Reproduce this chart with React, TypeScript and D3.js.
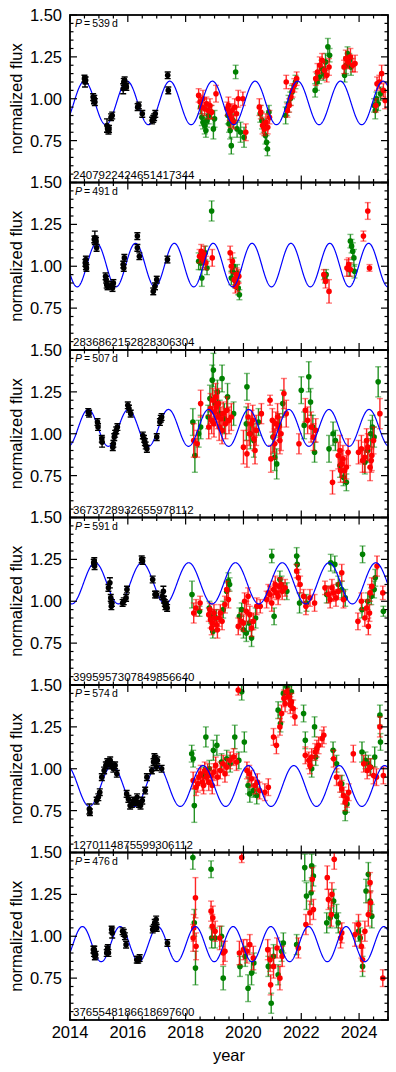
import * as d3 from "d3"

type Pt = [number, number, number] // year, flux, error

// panel metadata
const sourceIds = [
  "2407922424651417344",
  "2836862152828306304",
  "3673728932655978112",
  "3995957307849856640",
  "1270114875599306112",
  "3765548186618697600",
]
const periodDays = [539, 491, 507, 591, 574, 476]
const modelMean = [0.975, 1.007, 1.035, 1.107, 0.897, 0.953]
const modelAmp = [0.13, 0.13, 0.11, 0.123, 0.122, 0.105]
const modelPeak = [2014.5, 2014.92, 2014.63, 2014.87, 2015.455, 2014.43]

const xTickYears = [2014, 2016, 2018, 2020, 2022, 2024]
const yTickLabels = ["0.75", "1.00", "1.25", "1.50"]

// ---- panel 1 ----
const black1: Pt[] = [
  [2014.5, 1.12, 0.02], [2014.52, 1.1, 0.03], [2014.54, 1.11, 0.02],
  [2014.8, 1.01, 0.02], [2014.83, 0.99, 0.02], [2014.86, 0.98, 0.02], [2014.84, 1.0, 0.02],
  [2015.28, 0.84, 0.04], [2015.3, 0.82, 0.02], [2015.33, 0.81, 0.02], [2015.35, 0.82, 0.02],
  [2015.42, 0.89, 0.02], [2015.46, 0.9, 0.02],
  [2015.84, 1.06, 0.03], [2015.86, 1.1, 0.02], [2015.89, 1.11, 0.02], [2015.93, 1.08, 0.02], [2015.95, 1.07, 0.02],
  [2016.34, 0.95, 0.02], [2016.38, 0.96, 0.02], [2016.5, 0.91, 0.02],
  [2016.84, 0.87, 0.02], [2016.88, 0.88, 0.02], [2016.91, 0.89, 0.02], [2016.95, 0.91, 0.02],
  [2017.38, 1.14, 0.02], [2017.4, 1.05, 0.02],
]
const green1: Pt[] = [
  [2018.52, 0.95, 0.04], [2018.56, 0.89, 0.05], [2018.6, 0.86, 0.04], [2018.66, 0.84, 0.05],
  [2018.7, 0.81, 0.04], [2018.74, 0.87, 0.04], [2018.8, 0.9, 0.05], [2018.88, 0.92, 0.04],
  [2018.96, 0.82, 0.06], [2019.0, 0.88, 0.05],
  [2019.46, 0.9, 0.05], [2019.5, 0.85, 0.05], [2019.54, 0.81, 0.05], [2019.58, 0.72, 0.05],
  [2019.64, 0.87, 0.04], [2019.73, 1.16, 0.04], [2019.78, 0.82, 0.05], [2019.9, 0.8, 0.06], [2020.02, 0.77, 0.06],
  [2020.58, 0.91, 0.05], [2020.64, 0.87, 0.05], [2020.7, 0.84, 0.04], [2020.76, 0.78, 0.05],
  [2020.8, 0.74, 0.04], [2020.83, 0.7, 0.04], [2020.88, 0.92, 0.04],
  [2021.46, 0.9, 0.05], [2021.5, 0.94, 0.04], [2021.56, 0.97, 0.05], [2021.62, 1.0, 0.04],
  [2021.68, 1.04, 0.04], [2021.8, 1.1, 0.04],
  [2022.48, 1.05, 0.04], [2022.54, 1.1, 0.05], [2022.62, 1.13, 0.04], [2022.7, 1.18, 0.05],
  [2022.76, 1.15, 0.04], [2022.84, 1.22, 0.05], [2022.92, 1.31, 0.05], [2022.98, 1.26, 0.04],
  [2023.5, 1.14, 0.04], [2023.55, 1.2, 0.05], [2023.6, 1.27, 0.04], [2023.66, 1.23, 0.04], [2023.72, 1.19, 0.05],
  [2024.52, 0.96, 0.04], [2024.56, 0.93, 0.05], [2024.6, 1.0, 0.04], [2024.66, 0.97, 0.04], [2024.74, 1.03, 0.04],
]
const red1: Pt[] = [
  [2018.45, 1.02, 0.04], [2018.5, 0.98, 0.04], [2018.55, 0.95, 0.04], [2018.6, 1.0, 0.05],
  [2018.66, 0.94, 0.04], [2018.72, 0.97, 0.04], [2018.78, 0.93, 0.05], [2018.84, 0.96, 0.04],
  [2018.9, 0.92, 0.04], [2019.05, 1.03, 0.05],
  [2019.44, 0.94, 0.04], [2019.48, 0.96, 0.05], [2019.52, 0.91, 0.04], [2019.56, 0.88, 0.05],
  [2019.6, 0.93, 0.04], [2019.66, 0.86, 0.04], [2019.7, 0.95, 0.05], [2019.76, 0.91, 0.04],
  [2019.82, 1.0, 0.05], [2019.98, 1.0, 0.04], [2020.08, 0.8, 0.05],
  [2020.55, 0.95, 0.05], [2020.6, 0.92, 0.04], [2020.66, 0.84, 0.05], [2020.72, 0.82, 0.04],
  [2020.78, 0.86, 0.05], [2020.84, 0.83, 0.04], [2020.9, 0.89, 0.04],
  [2021.48, 1.1, 0.04], [2021.52, 0.93, 0.04], [2021.58, 0.96, 0.04], [2021.64, 1.01, 0.05],
  [2021.7, 1.05, 0.04], [2021.76, 1.08, 0.04], [2021.84, 1.12, 0.04],
  [2022.5, 1.12, 0.04], [2022.56, 1.16, 0.05], [2022.64, 1.2, 0.05], [2022.72, 1.23, 0.04],
  [2022.8, 1.17, 0.05], [2022.88, 1.14, 0.04], [2022.96, 1.19, 0.05],
  [2023.48, 1.19, 0.04], [2023.54, 1.24, 0.05], [2023.62, 1.22, 0.04], [2023.7, 1.25, 0.05],
  [2023.78, 1.2, 0.04], [2023.86, 1.21, 0.05],
  [2024.58, 0.96, 0.04], [2024.62, 1.09, 0.04], [2024.7, 1.1, 0.04], [2024.78, 1.15, 0.05],
  [2024.84, 1.05, 0.04], [2024.9, 0.99, 0.05],
]

// ---- panel 2 ----
const black2: Pt[] = [
  [2014.55, 1.04, 0.02], [2014.53, 1.02, 0.02], [2014.55, 1.0, 0.02], [2014.57, 0.99, 0.02],
  [2014.84, 1.16, 0.02], [2014.88, 1.16, 0.02], [2014.9, 1.15, 0.02], [2014.92, 1.11, 0.02], [2014.86, 1.17, 0.04],
  [2015.23, 0.94, 0.02], [2015.25, 0.92, 0.02], [2015.27, 0.89, 0.02], [2015.3, 0.88, 0.02],
  [2015.45, 0.89, 0.02], [2015.47, 0.87, 0.02], [2015.5, 0.9, 0.02],
  [2015.84, 1.01, 0.02], [2015.88, 1.05, 0.02], [2015.86, 0.99, 0.02],
  [2016.33, 1.18, 0.02], [2016.33, 1.11, 0.02], [2016.4, 1.06, 0.02],
  [2016.88, 0.85, 0.02], [2016.94, 0.88, 0.02], [2017.0, 0.92, 0.02],
  [2017.37, 1.04, 0.02],
]
const green2: Pt[] = [
  [2018.45, 1.03, 0.05], [2018.52, 1.02, 0.04], [2018.56, 0.93, 0.05], [2018.62, 1.05, 0.04],
  [2018.68, 1.08, 0.04], [2018.74, 0.99, 0.04], [2018.9, 1.33, 0.06],
  [2019.58, 0.93, 0.04], [2019.62, 0.97, 0.04], [2019.66, 1.0, 0.05], [2019.72, 0.91, 0.04],
  [2019.78, 0.96, 0.05], [2019.82, 0.87, 0.04], [2019.86, 0.83, 0.03],
  [2022.82, 0.93, 0.03], [2022.86, 0.95, 0.03],
  [2023.66, 0.98, 0.04], [2023.7, 1.15, 0.04], [2023.74, 1.12, 0.04], [2023.78, 1.09, 0.05],
  [2023.82, 1.05, 0.05], [2023.84, 0.97, 0.04],
]
const red2: Pt[] = [
  [2018.48, 1.06, 0.04], [2018.54, 1.09, 0.04], [2018.6, 1.04, 0.05], [2018.64, 1.07, 0.05],
  [2018.7, 1.02, 0.04], [2018.92, 1.05, 0.05],
  [2019.54, 1.08, 0.04], [2019.58, 1.0, 0.04], [2019.62, 1.03, 0.05], [2019.68, 0.92, 0.04],
  [2019.72, 0.88, 0.04], [2019.76, 0.95, 0.04], [2019.8, 0.9, 0.05], [2019.84, 0.94, 0.04],
  [2022.78, 0.95, 0.03], [2022.84, 0.91, 0.04], [2022.96, 0.85, 0.07],
  [2023.58, 0.99, 0.05], [2023.64, 1.01, 0.04], [2023.7, 0.98, 0.04],
  [2024.15, 1.18, 0.03], [2024.3, 1.33, 0.05], [2024.36, 0.99, 0.02],
]

// ---- panel 3 ----
const black3: Pt[] = [
  [2014.63, 1.13, 0.02], [2014.66, 1.12, 0.02],
  [2014.95, 1.07, 0.02], [2014.97, 1.04, 0.02],
  [2015.1, 0.97, 0.02], [2015.11, 0.95, 0.03],
  [2015.48, 0.92, 0.02], [2015.5, 0.94, 0.02], [2015.53, 0.98, 0.02], [2015.56, 1.0, 0.02],
  [2015.6, 1.02, 0.02], [2015.64, 1.04, 0.02],
  [2016.0, 1.17, 0.02], [2016.04, 1.15, 0.02], [2016.1, 1.12, 0.02],
  [2016.52, 0.99, 0.02], [2016.56, 0.97, 0.02], [2016.59, 0.95, 0.02], [2016.62, 0.93, 0.02], [2016.66, 0.91, 0.02],
  [2017.0, 0.98, 0.02], [2017.11, 1.07, 0.02], [2017.14, 1.09, 0.02], [2017.17, 1.1, 0.02],
]
const green3: Pt[] = [
  [2018.25, 1.07, 0.08], [2018.32, 0.87, 0.1], [2018.45, 1.0, 0.08], [2018.52, 1.04, 0.07],
  [2018.78, 1.1, 0.07], [2018.84, 1.21, 0.08], [2018.92, 1.32, 0.09], [2018.96, 1.38, 0.1],
  [2019.02, 1.18, 0.08], [2019.1, 1.25, 0.07], [2019.18, 1.12, 0.08], [2019.26, 1.33, 0.08],
  [2019.34, 1.09, 0.09], [2019.45, 1.22, 0.08], [2019.66, 1.12, 0.07],
  [2020.1, 1.06, 0.1], [2020.12, 1.28, 0.08], [2020.24, 1.0, 0.09], [2020.36, 0.96, 0.1], [2020.52, 1.07, 0.08],
  [2021.02, 0.98, 0.1], [2021.08, 0.86, 0.08], [2021.15, 0.82, 0.09], [2021.24, 1.05, 0.07], [2021.36, 1.18, 0.08],
  [2022.0, 1.26, 0.08], [2022.1, 1.05, 0.08], [2022.26, 1.34, 0.09], [2022.32, 1.19, 0.08],
  [2022.4, 1.04, 0.07], [2022.46, 0.89, 0.06],
  [2022.96, 0.91, 0.08], [2023.1, 1.0, 0.07], [2023.18, 0.96, 0.06], [2023.34, 0.81, 0.07],
  [2023.46, 0.74, 0.05], [2023.56, 0.71, 0.05],
  [2024.2, 0.83, 0.07], [2024.3, 0.9, 0.07], [2024.4, 1.0, 0.08], [2024.46, 1.04, 0.07],
  [2024.52, 0.98, 0.06], [2024.66, 1.31, 0.09],
]
const red3: Pt[] = [
  [2018.28, 0.96, 0.1], [2018.4, 0.94, 0.08], [2018.52, 1.18, 0.08],
  [2018.8, 1.04, 0.07], [2018.86, 1.15, 0.09], [2018.9, 1.08, 0.08], [2018.94, 1.2, 0.07],
  [2018.98, 1.06, 0.08], [2019.0, 1.13, 0.08], [2019.04, 1.22, 0.08], [2019.06, 1.16, 0.09],
  [2019.12, 1.1, 0.07], [2019.14, 1.18, 0.09], [2019.16, 1.04, 0.08], [2019.22, 1.09, 0.07],
  [2019.26, 1.02, 0.08], [2019.3, 1.12, 0.07], [2019.38, 1.06, 0.09], [2019.42, 1.14, 0.08],
  [2019.5, 1.08, 0.08], [2019.58, 1.1, 0.08],
  [2020.0, 0.92, 0.1], [2020.12, 0.88, 0.08], [2020.16, 1.1, 0.08], [2020.2, 1.0, 0.07], [2020.28, 1.06, 0.08],
  [2020.32, 1.08, 0.09], [2020.36, 0.97, 0.07], [2020.4, 0.9, 0.08], [2020.44, 1.02, 0.09], [2020.62, 1.12, 0.06],
  [2020.92, 1.2, 0.03], [2020.95, 0.85, 0.08], [2021.0, 1.08, 0.07], [2021.04, 0.98, 0.09],
  [2021.08, 0.94, 0.09], [2021.12, 1.06, 0.07], [2021.18, 1.1, 0.08], [2021.22, 1.04, 0.08],
  [2021.26, 0.96, 0.08], [2021.3, 1.0, 0.1], [2021.4, 1.24, 0.09], [2021.48, 1.12, 0.08],
  [2021.92, 0.94, 0.06], [2022.14, 1.14, 0.07], [2022.22, 1.08, 0.08], [2022.34, 1.04, 0.09],
  [2022.42, 0.98, 0.08], [2022.5, 1.02, 0.07],
  [2023.08, 0.71, 0.07], [2023.28, 0.87, 0.08], [2023.34, 0.9, 0.09], [2023.36, 0.78, 0.07],
  [2023.4, 0.82, 0.08], [2023.44, 0.85, 0.08], [2023.5, 0.78, 0.07], [2023.56, 0.8, 0.07], [2023.62, 0.89, 0.08],
  [2023.98, 0.89, 0.07], [2024.08, 0.91, 0.08], [2024.12, 0.84, 0.07], [2024.2, 0.86, 0.09],
  [2024.26, 0.96, 0.07], [2024.3, 0.92, 0.08], [2024.38, 0.8, 0.08], [2024.42, 0.84, 0.07],
  [2024.44, 0.87, 0.09], [2024.5, 0.96, 0.08], [2024.72, 1.12, 0.09],
]

// ---- panel 4 ----
const black4: Pt[] = [
  [2014.84, 1.24, 0.02], [2014.85, 1.21, 0.02], [2014.82, 1.23, 0.02],
  [2015.33, 1.08, 0.02], [2015.38, 1.11, 0.03], [2015.41, 1.02, 0.02], [2015.45, 0.99, 0.02], [2015.43, 0.97, 0.02],
  [2015.82, 0.99, 0.02], [2015.86, 1.0, 0.02], [2015.94, 1.02, 0.02], [2015.97, 1.07, 0.02],
  [2016.48, 1.25, 0.02], [2016.51, 1.24, 0.02],
  [2016.86, 1.13, 0.02], [2016.94, 1.04, 0.02], [2016.99, 1.04, 0.02],
  [2017.19, 1.03, 0.02], [2017.23, 1.06, 0.03], [2017.25, 1.01, 0.02], [2017.28, 0.99, 0.02],
  [2017.3, 0.97, 0.02], [2017.36, 0.96, 0.02], [2017.33, 0.98, 0.02],
]
const green4: Pt[] = [
  [2018.22, 1.04, 0.08], [2018.48, 0.94, 0.03], [2018.82, 0.96, 0.04], [2018.88, 0.91, 0.04],
  [2018.94, 0.82, 0.04], [2019.06, 0.9, 0.05], [2019.3, 0.95, 0.05], [2019.42, 1.06, 0.05],
  [2019.48, 1.12, 0.05], [2019.52, 1.1, 0.04],
  [2019.86, 0.91, 0.05], [2019.94, 0.95, 0.04], [2020.0, 0.83, 0.05], [2020.1, 0.81, 0.05],
  [2020.2, 0.87, 0.05], [2020.28, 0.78, 0.05], [2020.42, 0.9, 0.06],
  [2020.98, 1.27, 0.04], [2021.06, 0.91, 0.05], [2021.26, 1.13, 0.05], [2021.32, 1.1, 0.05], [2021.5, 1.06, 0.05],
  [2021.84, 1.27, 0.05], [2021.86, 1.22, 0.05], [2021.94, 0.99, 0.06], [2022.18, 0.99, 0.05],
  [2022.88, 1.04, 0.05], [2023.02, 1.23, 0.05], [2023.16, 1.22, 0.05], [2023.28, 1.1, 0.05],
  [2023.4, 1.07, 0.05], [2023.52, 1.02, 0.05],
  [2024.1, 0.95, 0.05], [2024.12, 1.28, 0.05], [2024.3, 1.0, 0.05], [2024.42, 1.03, 0.05],
  [2024.52, 1.07, 0.05], [2024.56, 1.14, 0.05], [2024.84, 0.94, 0.03],
]
const red4: Pt[] = [
  [2018.28, 0.93, 0.06], [2018.36, 0.96, 0.05], [2018.5, 0.99, 0.04],
  [2018.8, 0.92, 0.04], [2018.84, 0.95, 0.04], [2018.86, 0.89, 0.05], [2018.9, 0.84, 0.04],
  [2018.92, 0.87, 0.04], [2018.98, 0.93, 0.05], [2019.0, 0.9, 0.05], [2019.06, 0.86, 0.04],
  [2019.1, 0.83, 0.05], [2019.16, 0.9, 0.05], [2019.2, 0.93, 0.05], [2019.26, 0.88, 0.05],
  [2019.36, 0.98, 0.05], [2019.42, 1.07, 0.05], [2019.48, 1.01, 0.05],
  [2019.82, 0.85, 0.05], [2019.92, 0.88, 0.05], [2020.0, 0.87, 0.05], [2020.04, 1.0, 0.05], [2020.1, 0.94, 0.06],
  [2020.16, 1.03, 0.05], [2020.22, 0.92, 0.05], [2020.28, 0.84, 0.05], [2020.34, 0.88, 0.05],
  [2020.46, 0.97, 0.05], [2020.58, 0.97, 0.04],
  [2020.8, 1.01, 0.05], [2020.86, 1.05, 0.05], [2020.92, 1.04, 0.05], [2020.98, 0.99, 0.05],
  [2021.04, 1.07, 0.05], [2021.1, 1.1, 0.05], [2021.14, 1.05, 0.04], [2021.2, 1.03, 0.05],
  [2021.24, 1.09, 0.05], [2021.3, 1.1, 0.04], [2021.34, 1.06, 0.05], [2021.44, 1.08, 0.05],
  [2021.84, 1.18, 0.04], [2021.9, 1.14, 0.05], [2021.96, 1.1, 0.05], [2022.08, 1.03, 0.04],
  [2022.16, 0.97, 0.05], [2022.3, 1.02, 0.05], [2022.46, 0.99, 0.05],
  [2022.82, 1.08, 0.04], [2022.94, 1.04, 0.05], [2023.0, 1.01, 0.05], [2023.06, 1.08, 0.05],
  [2023.12, 1.05, 0.05], [2023.2, 1.02, 0.05], [2023.28, 1.06, 0.05], [2023.4, 1.17, 0.05], [2023.46, 1.01, 0.05],
  [2023.96, 0.88, 0.05], [2024.08, 1.0, 0.05], [2024.2, 0.9, 0.05], [2024.26, 0.96, 0.05],
  [2024.32, 0.85, 0.05], [2024.36, 0.93, 0.05], [2024.38, 1.05, 0.05], [2024.44, 1.09, 0.05],
  [2024.62, 1.21, 0.06], [2024.82, 1.05, 0.04],
]

// ---- panel 5 ----
const black5: Pt[] = [
  [2014.67, 0.76, 0.03], [2014.69, 0.74, 0.02],
  [2014.92, 0.81, 0.02], [2014.98, 0.83, 0.02], [2015.03, 0.86, 0.02],
  [2015.1, 0.95, 0.02], [2015.18, 0.99, 0.02], [2015.24, 1.02, 0.02], [2015.29, 1.04, 0.02],
  [2015.33, 1.03, 0.02], [2015.39, 1.05, 0.02], [2015.44, 1.02, 0.02], [2015.5, 1.0, 0.02],
  [2015.56, 1.02, 0.02], [2015.62, 0.97, 0.02],
  [2015.96, 0.85, 0.02], [2016.02, 0.82, 0.02], [2016.08, 0.78, 0.02], [2016.14, 0.79, 0.02],
  [2016.2, 0.81, 0.02], [2016.26, 0.8, 0.02], [2016.32, 0.83, 0.02], [2016.38, 0.79, 0.02],
  [2016.44, 0.78, 0.02], [2016.5, 0.81, 0.02],
  [2016.6, 0.87, 0.02], [2016.66, 0.95, 0.02],
  [2016.83, 0.99, 0.02], [2016.89, 1.04, 0.02], [2016.92, 1.07, 0.02], [2016.95, 1.06, 0.02],
  [2017.02, 1.05, 0.02], [2016.99, 1.01, 0.02], [2017.17, 1.0, 0.02],
]
const green5: Pt[] = [
  [2018.21, 1.09, 0.05], [2018.26, 1.06, 0.05], [2018.3, 0.78, 0.1],
  [2018.62, 0.96, 0.05], [2018.7, 1.19, 0.06], [2018.82, 1.0, 0.05], [2018.96, 1.11, 0.06],
  [2019.08, 1.14, 0.06], [2019.24, 1.04, 0.05], [2019.42, 1.06, 0.05], [2019.54, 1.03, 0.05],
  [2019.7, 1.19, 0.07], [2019.84, 1.05, 0.05], [2019.94, 1.46, 0.05], [2020.03, 1.16, 0.06],
  [2020.16, 0.9, 0.05], [2020.22, 0.85, 0.05], [2020.34, 0.87, 0.04], [2020.46, 0.84, 0.05],
  [2021.2, 1.35, 0.05], [2021.28, 1.27, 0.05], [2021.38, 1.45, 0.05], [2021.5, 1.49, 0.06],
  [2021.58, 1.44, 0.05], [2021.66, 1.46, 0.05],
  [2022.08, 1.33, 0.05], [2022.14, 1.17, 0.05], [2022.36, 1.0, 0.05], [2022.46, 1.25, 0.06], [2022.5, 1.07, 0.05],
  [2023.1, 1.11, 0.05], [2023.22, 1.03, 0.05], [2023.4, 0.91, 0.05], [2023.52, 0.74, 0.05], [2023.58, 0.79, 0.05],
  [2024.1, 1.1, 0.06], [2024.22, 1.05, 0.05], [2024.32, 1.03, 0.05], [2024.4, 1.01, 0.05],
  [2024.54, 1.07, 0.06], [2024.72, 1.32, 0.06], [2024.74, 1.16, 0.05],
]
const red5: Pt[] = [
  [2018.26, 0.93, 0.05], [2018.36, 0.89, 0.05], [2018.42, 0.91, 0.05], [2018.46, 0.95, 0.05],
  [2018.52, 0.97, 0.05], [2018.58, 0.92, 0.05], [2018.62, 0.9, 0.05], [2018.66, 0.99, 0.05],
  [2018.72, 0.95, 0.04], [2018.76, 0.98, 0.05], [2018.8, 0.92, 0.05], [2018.88, 0.96, 0.05],
  [2018.92, 0.9, 0.05], [2018.98, 0.98, 0.05], [2019.04, 1.02, 0.05], [2019.1, 0.95, 0.05],
  [2019.2, 0.99, 0.05], [2019.3, 1.03, 0.05], [2019.36, 0.97, 0.05], [2019.42, 1.01, 0.05],
  [2019.54, 1.05, 0.05], [2019.66, 1.07, 0.05], [2019.76, 1.04, 0.05], [2019.82, 1.47, 0.03],
  [2020.12, 0.99, 0.05], [2020.2, 0.97, 0.05], [2020.28, 0.94, 0.05], [2020.4, 0.9, 0.05],
  [2020.48, 0.92, 0.05], [2020.56, 0.87, 0.05], [2020.74, 0.86, 0.05], [2020.86, 0.89, 0.05],
  [2021.04, 1.19, 0.05], [2021.14, 1.14, 0.05], [2021.26, 1.25, 0.05], [2021.32, 1.33, 0.05],
  [2021.4, 1.42, 0.05], [2021.44, 1.39, 0.05], [2021.5, 1.46, 0.05], [2021.56, 1.43, 0.05],
  [2021.62, 1.38, 0.05], [2021.66, 1.4, 0.05], [2021.72, 1.36, 0.05], [2021.78, 1.31, 0.05],
  [2022.14, 1.08, 0.05], [2022.26, 1.05, 0.05], [2022.3, 1.02, 0.05], [2022.36, 1.07, 0.05],
  [2022.48, 1.1, 0.05], [2022.54, 1.12, 0.05], [2022.6, 1.14, 0.05], [2022.72, 1.18, 0.05], [2022.78, 1.2, 0.05],
  [2023.12, 1.06, 0.05], [2023.22, 0.95, 0.05], [2023.34, 0.91, 0.05], [2023.4, 0.88, 0.05],
  [2023.46, 0.84, 0.05], [2023.52, 0.8, 0.05], [2023.58, 0.82, 0.05], [2023.64, 0.86, 0.05], [2023.8, 1.09, 0.05],
  [2024.16, 1.03, 0.05], [2024.28, 0.99, 0.05], [2024.38, 1.01, 0.05], [2024.5, 0.96, 0.05],
  [2024.6, 0.95, 0.05], [2024.72, 1.25, 0.06], [2024.84, 0.96, 0.05],
]

// ---- panel 6 ----
const black6: Pt[] = [
  [2014.81, 0.92, 0.02], [2014.83, 0.9, 0.02], [2014.86, 0.88, 0.02], [2014.89, 0.89, 0.02], [2014.84, 0.92, 0.02],
  [2015.27, 0.9, 0.02], [2015.29, 0.92, 0.02], [2015.31, 0.93, 0.02], [2015.33, 0.9, 0.02],
  [2015.44, 1.04, 0.02], [2015.46, 1.02, 0.03],
  [2015.82, 1.03, 0.02], [2015.86, 1.02, 0.02], [2015.9, 1.0, 0.02], [2015.94, 0.95, 0.02],
  [2016.31, 0.86, 0.02], [2016.36, 0.86, 0.02], [2016.41, 0.87, 0.02],
  [2016.86, 1.04, 0.02], [2016.9, 1.05, 0.02], [2016.93, 1.08, 0.02], [2016.98, 1.1, 0.02],
  [2017.0, 1.05, 0.02], [2016.96, 1.06, 0.02],
  [2017.37, 0.96, 0.02],
]
const green6: Pt[] = [
  [2018.25, 1.47, 0.07], [2018.3, 1.08, 0.08], [2018.34, 0.81, 0.1],
  [2018.88, 1.4, 0.05], [2018.9, 0.99, 0.06], [2019.02, 0.99, 0.06], [2019.24, 1.0, 0.06], [2019.3, 0.75, 0.07],
  [2019.88, 0.82, 0.06], [2020.06, 0.88, 0.06], [2020.16, 0.69, 0.08], [2020.28, 0.78, 0.07], [2020.36, 0.84, 0.06],
  [2020.86, 0.82, 0.06], [2020.96, 0.6, 0.06], [2021.04, 0.88, 0.07], [2021.2, 0.77, 0.06],
  [2021.32, 0.91, 0.06], [2021.38, 0.96, 0.06], [2021.84, 0.95, 0.06],
  [2022.12, 1.41, 0.08], [2022.18, 1.24, 0.08], [2022.34, 1.26, 0.07], [2022.36, 1.42, 0.07], [2022.42, 1.36, 0.06],
  [2022.88, 1.08, 0.06], [2023.0, 1.11, 0.06], [2023.12, 1.21, 0.07], [2023.22, 1.12, 0.07], [2023.28, 1.08, 0.06],
  [2023.98, 1.03, 0.06], [2024.04, 0.99, 0.06], [2024.12, 0.82, 0.06], [2024.24, 1.27, 0.07],
  [2024.32, 1.37, 0.07], [2024.38, 1.21, 0.06], [2024.44, 1.12, 0.07],
]
const red6: Pt[] = [
  [2018.28, 1.05, 0.08], [2018.26, 0.99, 0.08], [2018.34, 1.23, 0.12], [2018.36, 0.94, 0.08],
  [2018.88, 1.15, 0.06], [2018.94, 1.11, 0.07], [2018.92, 1.06, 0.07], [2019.02, 1.03, 0.06],
  [2019.18, 0.99, 0.07], [2019.3, 0.9, 0.07], [2019.36, 0.91, 0.06],
  [2019.94, 1.47, 0.03], [2019.86, 0.9, 0.07], [2020.0, 0.92, 0.06], [2020.12, 0.91, 0.07],
  [2020.22, 0.95, 0.06], [2020.34, 0.87, 0.07],
  [2020.84, 0.92, 0.06], [2020.92, 0.86, 0.07], [2020.94, 0.71, 0.06], [2021.04, 0.82, 0.07],
  [2021.16, 0.93, 0.06], [2021.26, 0.75, 0.07], [2021.34, 0.88, 0.06], [2021.9, 0.93, 0.06],
  [2022.16, 1.07, 0.06], [2022.3, 1.14, 0.07], [2022.38, 1.34, 0.07], [2022.42, 1.16, 0.06],
  [2022.9, 1.35, 0.07], [2022.94, 1.22, 0.06], [2023.04, 1.13, 0.07], [2023.06, 1.25, 0.07],
  [2023.14, 1.46, 0.06], [2023.36, 0.99, 0.06], [2023.4, 1.02, 0.06],
  [2023.86, 1.01, 0.07], [2023.98, 1.07, 0.06], [2024.08, 0.94, 0.07], [2024.12, 0.86, 0.07],
  [2024.2, 1.03, 0.06], [2024.32, 1.13, 0.07], [2024.38, 1.32, 0.06], [2024.4, 1.2, 0.07],
  [2024.82, 0.75, 0.05],
]

const blackSets = [black1, black2, black3, black4, black5, black6]
const greenSets = [green1, green2, green3, green4, green5, green6]
const redSets = [red1, red2, red3, red4, red5, red6]

const W = 396
const H = 1072
const left = 70
const right = 388
const top0 = 15
const panelH = 167.5
const FONT = "'Liberation Sans', Arial, Helvetica, sans-serif"

const x = d3.scaleLinear().domain([2014, 2025]).range([left, right])

function ErrPoints({ data, y, color, r, capOpacity, barOpacity }: {
  data: Pt[]; y: d3.ScaleLinear<number, number>; color: string; r: number; capOpacity: number; barOpacity: number
}) {
  const cap = 3
  return (
    <g>
      {data.map(([t, f, e], i) => {
        const cx = x(t)
        const y0 = y(f - e)
        const y1 = y(f + e)
        return (
          <g key={i}>
            <line x1={cx} x2={cx} y1={y0} y2={y1} stroke={color} strokeWidth={1.4} opacity={barOpacity} />
            <line x1={cx - cap} x2={cx + cap} y1={y0} y2={y0} stroke={color} strokeWidth={1.4} opacity={capOpacity} />
            <line x1={cx - cap} x2={cx + cap} y1={y1} y2={y1} stroke={color} strokeWidth={1.4} opacity={capOpacity} />
            <circle cx={cx} cy={y(f)} r={r} fill={color} />
          </g>
        )
      })}
    </g>
  )
}

function Panel({ i }: { i: number }) {
  const pTop = top0 + i * panelH
  const pBot = pTop + panelH
  const y = d3.scaleLinear().domain([0.5, 1.5]).range([pBot, pTop])
  const periodYr = periodDays[i] / 365.25
  const ts = d3.range(2014, 2025.0001, 0.01)
  const model = d3
    .line<number>()
    .x((t) => x(t))
    .y((t) => y(modelMean[i] + modelAmp[i] * Math.cos((2 * Math.PI * (t - modelPeak[i])) / periodYr)))
  const xMinor = d3.range(2014, 2025.001, 0.5)
  const yMinor = d3.range(0.5, 1.5001, 0.05)
  const isMajorX = (t: number) => Math.abs(t - Math.round(t)) < 1e-6 && Math.round(t) % 2 === 0
  const isMajorY = (v: number) => Math.abs(v * 4 - Math.round(v * 4)) < 1e-6
  const clipId = `clip-${i}`
  return (
    <g>
      <defs>
        <clipPath id={clipId}>
          <rect x={left} y={pTop} width={right - left} height={panelH} />
        </clipPath>
      </defs>
      <g clipPath={`url(#${clipId})`}>
        <ErrPoints data={greenSets[i]} y={y} color="#008000" r={2.8} capOpacity={0.5} barOpacity={0.85} />
        <ErrPoints data={redSets[i]} y={y} color="#ff0000" r={2.8} capOpacity={0.5} barOpacity={0.85} />
        <path d={model(ts) ?? ""} fill="none" stroke="#0000ff" strokeWidth={1.2} />
        <ErrPoints data={blackSets[i]} y={y} color="#000000" r={2.8} capOpacity={1} barOpacity={1} />
      </g>
      {xMinor.map((t) => {
        const len = isMajorX(t) ? 7 : 3.5
        return (
          <g key={`xt${t}`} stroke="#000" strokeWidth={1.2}>
            <line x1={x(t)} x2={x(t)} y1={pTop} y2={pTop + len} />
            <line x1={x(t)} x2={x(t)} y1={pBot} y2={pBot - len} />
          </g>
        )
      })}
      {yMinor.map((v) => {
        const len = isMajorY(v) ? 7 : 3.5
        return (
          <g key={`yt${v.toFixed(2)}`} stroke="#000" strokeWidth={1.2}>
            <line x1={left} x2={left + len} y1={y(v)} y2={y(v)} />
            <line x1={right} x2={right - len} y1={y(v)} y2={y(v)} />
          </g>
        )
      })}
      {yTickLabels.map((lab) => (
        <text key={lab} x={62} y={y(+lab)} dy="0.36em" textAnchor="end" fontSize={16.5} fontFamily={FONT}>
          {lab}
        </text>
      ))}
      <text
        transform={`translate(16,${(pTop + pBot) / 2}) rotate(-90)`}
        textAnchor="middle"
        dy="0.35em"
        fontSize={16.5}
        fontFamily={FONT}
      >
        normalized flux
      </text>
      <text x={75} y={pTop + 12} fontSize={10.5} fontFamily={FONT}>
        <tspan fontStyle="italic">P</tspan>
        {`\u2009=\u2009${periodDays[i]}\u2009d`}
      </text>
      <text x={73} y={pBot - 4} fontSize={11.5} fontFamily={FONT}>
        {sourceIds[i]}
      </text>
      <rect x={left} y={pTop} width={right - left} height={panelH} fill="none" stroke="#000" strokeWidth={1.8} />
    </g>
  )
}

export default function App() {
  const bottom = top0 + 6 * panelH
  return (
    <svg width={W} height={H} style={{ position: "absolute", left: 0, top: 0, background: "#fff" }}>
      <rect width={W} height={H} fill="#fff" />
      {d3.range(6).map((i) => (
        <Panel key={i} i={i} />
      ))}
      {xTickYears.map((t) => (
        <text key={t} x={x(t)} y={bottom + 18} textAnchor="middle" fontSize={16.5} fontFamily={FONT}>
          {t}
        </text>
      ))}
      <text x={(left + right) / 2} y={bottom + 41} textAnchor="middle" fontSize={16.5} fontFamily={FONT}>
        year
      </text>
    </svg>
  )
}
